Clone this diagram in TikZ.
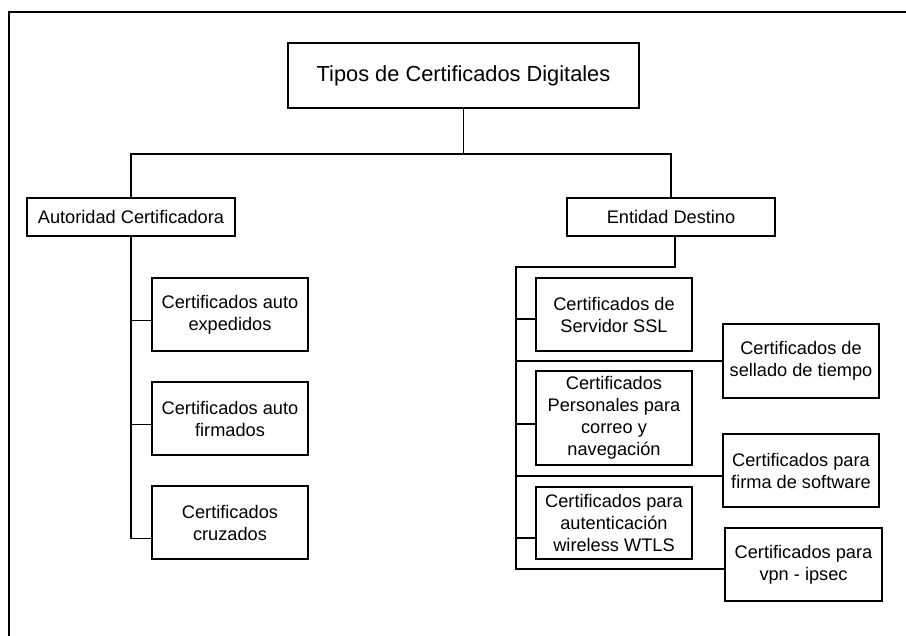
\documentclass[tikz,border=0pt]{standalone}
\usepackage{fontspec}
\setmainfont{Liberation Sans}
\begin{document}
\begin{tikzpicture}[x=1pt,y=-1pt,
  line width=1.3pt,
  box/.style={draw, line width=1.3pt, inner sep=0pt, align=center,
    font=\fontsize{18.2}{22}\selectfont},
  wbox/.style={box, minimum width=156pt, minimum height=73pt}]
\useasboundingbox (0,0) rectangle (906,636);

% outer frame (top and left edges)
\draw[line width=2pt] (9,636) -- (9,12) -- (906,12);

% root
\node[box, minimum width=351pt, minimum height=65pt,
  font=\fontsize{21.8}{26}\selectfont] (title) at (463.5,75.5)
  {Tipos de Certificados Digitales};

% second level
\node[box, minimum width=208pt, minimum height=38pt] (ac) at (131,217) {Autoridad Certificadora};
\node[box, minimum width=208pt, minimum height=38pt] (ed) at (671,217) {Entidad Destino};

% Autoridad Certificadora branch
\node[wbox] (a1) at (230,314.5) {Certificados auto\\expedidos};
\node[wbox] (a2) at (230,418.5) {Certificados auto\\firmados};
\node[wbox] (a3) at (230,522.5) {Certificados\\cruzados};

% Entidad Destino branch, left column
\node[wbox] (e1) at (614,314.5) {Certificados de\\Servidor SSL};
\node[wbox, minimum height=94pt] (e2) at (614,418) {Certificados\\Personales para\\correo y\\navegación};
\node[wbox, minimum height=72pt] (e3) at (614,523) {Certificados para\\autenticación\\wireless WTLS};

% Entidad Destino branch, right column
\node[wbox, minimum height=74pt] (r1) at (801,361) {Certificados de\\sellado de tiempo};
\node[wbox] (r2) at (801,470.5) {Certificados para\\firma de software};
\node[wbox, minimum width=157pt] (r3) at (803.5,564.5) {Certificados para\\vpn - ipsec};

% root connector
\coordinate (hub) at (463.5,154);
\draw (title.south) -- (hub);
\draw (ac.north) |- (hub) -| (ed.north);

% Autoridad Certificadora spine
\draw (ac.south) |- ([yshift=-16pt]a3.west);
\draw ([yshift=-6pt]a1.west) -- ([yshift=-6pt]a1.west -| ac.south);
\draw ([yshift=-6pt]a2.west) -- ([yshift=-6pt]a2.west -| ac.south);

% Entidad Destino spine
\coordinate (sptop) at (516,267);
\coordinate (spbot) at (516,569);
\draw ([xshift=4pt]ed.south) |- (sptop) -- (spbot) -- (spbot -| r3.west);
\draw ([yshift=-4.5pt]e1.west) -- ([yshift=-4.5pt]e1.west -| sptop);
\draw (r1.west) -- (r1.west -| sptop);
\draw ([yshift=-6pt]e2.west) -- ([yshift=-6pt]e2.west -| sptop);
\draw ([yshift=-5.5pt]r2.west) -- ([yshift=-5.5pt]r2.west -| sptop);
\draw ([yshift=-15pt]e3.west) -- ([yshift=-15pt]e3.west -| sptop);
\end{tikzpicture}
\end{document}
